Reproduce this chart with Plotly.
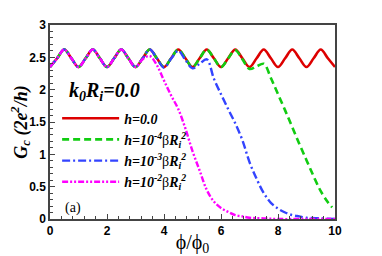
import plotly.graph_objects as go

# ---------------- data ----------------
x_red = [0, 0.25, 0.5, 0.75, 1, 1.25, 1.5, 1.75, 2, 2.25, 2.5, 2.75, 3, 3.25, 3.5, 3.75,
         4, 4.25, 4.5, 4.75, 5, 5.25, 5.5, 5.75, 6, 6.25, 6.5, 6.75, 7, 7.25, 7.5, 7.75,
         8, 8.25, 8.5, 8.75, 9, 9.25, 9.5, 9.75, 10]
y_red = [2.35, 2.485, 2.62, 2.485, 2.35, 2.485, 2.62, 2.485, 2.35, 2.485, 2.62, 2.485,
         2.35, 2.485, 2.62, 2.485, 2.35, 2.485, 2.62, 2.485, 2.35, 2.485, 2.62, 2.485,
         2.35, 2.485, 2.62, 2.485, 2.35, 2.485, 2.62, 2.485, 2.35, 2.485, 2.62, 2.485,
         2.35, 2.485, 2.62, 2.485, 2.35]

x_green = [0, 0.25, 0.5, 0.75, 1, 1.25, 1.5, 1.75, 2, 2.25, 2.5, 2.75, 3, 3.25, 3.5, 3.75,
           4, 4.25, 4.5, 4.75, 5, 5.25, 5.5, 5.75, 6, 6.25, 6.5, 6.75, 7, 7.25, 7.5, 7.75,
           8, 8.25, 8.5, 8.75, 9, 9.25, 9.5, 9.75, 9.9]
y_green = [2.35, 2.485, 2.62, 2.485, 2.35, 2.485, 2.62, 2.485, 2.35, 2.485, 2.62, 2.485,
           2.35, 2.485, 2.62, 2.485, 2.35, 2.485, 2.62, 2.485, 2.35, 2.485, 2.62, 2.485,
           2.35, 2.485, 2.61, 2.47, 2.32, 2.36, 2.40, 2.18, 1.93, 1.68, 1.42, 1.16,
           0.91, 0.66, 0.43, 0.26, 0.18]

x_blue = [0, 0.25, 0.5, 0.75, 1, 1.25, 1.5, 1.75, 2, 2.25, 2.5, 2.75, 3, 3.25, 3.5, 3.75,
          4, 4.25, 4.5, 4.75, 5, 5.25, 5.5, 5.75, 6, 6.25, 6.5, 6.75, 7, 7.25, 7.5, 7.75,
          8, 8.25, 8.5, 8.75, 9, 9.5, 10]
y_blue = [2.35, 2.485, 2.62, 2.485, 2.35, 2.485, 2.62, 2.485, 2.35, 2.485, 2.62, 2.485,
          2.35, 2.485, 2.62, 2.485, 2.34, 2.48, 2.60, 2.46, 2.33, 2.40, 2.47, 2.17,
          1.93, 1.70, 1.48, 1.22, 0.88, 0.62, 0.40, 0.25, 0.16, 0.10, 0.06, 0.04,
          0.02, 0.01, 0.0]

x_mag = [0, 0.25, 0.5, 0.75, 1, 1.25, 1.5, 1.75, 2, 2.25, 2.5, 2.75, 3, 3.25, 3.5, 3.75,
         4, 4.25, 4.5, 4.75, 5, 5.25, 5.5, 5.75, 6, 6.25, 6.5, 6.75, 7, 7.5, 8, 9, 10]
y_mag = [2.35, 2.485, 2.62, 2.485, 2.35, 2.485, 2.62, 2.485, 2.35, 2.485, 2.62, 2.485,
         2.35, 2.47, 2.52, 2.38, 2.14, 1.91, 1.70, 1.40, 1.05, 0.75, 0.45, 0.27,
         0.17, 0.11, 0.06, 0.04, 0.02, 0.01, 0.0, 0.0, 0.0]

names = ["<b><i>h=0.0</i></b>",
         "<b><i>h=10<sup>-4</sup></i></b>β<b><i>R<sub>i</sub><sup>2</sup></i></b>",
         "<b><i>h=10<sup>-3</sup></i></b>β<b><i>R<sub>i</sub><sup>2</sup></i></b>",
         "<b><i>h=10<sup>-2</sup></i></b>β<b><i>R<sub>i</sub><sup>2</sup></i></b>"]

x_ticks = [0, 2, 4, 6, 8, 10]
x_tick_text = ["0", "2", "4", "6", "8", "10"]
y_ticks = [0, 0.5, 1, 1.5, 2, 2.5, 3]
y_tick_text = ["0", "0.5", "1", "1.5", "2", "2.5", "3"]

# ---------------- figure ----------------
serif = "'Liberation Serif', 'Times New Roman', Times, serif"
sans = "'Liberation Sans', Arial, sans-serif"
fig = go.Figure()
fig.add_trace(go.Scatter(x=x_red, y=y_red, name=names[0], mode="lines",
                         line=dict(color="#dd0000", width=2.6, shape="spline", smoothing=1)))
fig.add_trace(go.Scatter(x=x_green, y=y_green, name=names[1], mode="lines",
                         line=dict(color="#11cc11", width=2.6, dash="7px,4px",
                                   shape="spline", smoothing=1)))
fig.add_trace(go.Scatter(x=x_blue, y=y_blue, name=names[2], mode="lines",
                         line=dict(color="#3344ff", width=2.4, dash="8px,3px,2px,3px",
                                   shape="spline", smoothing=1)))
fig.add_trace(go.Scatter(x=x_mag, y=y_mag, name=names[3], mode="lines",
                         line=dict(color="#ff00ff", width=2.4, dash="6px,2px,2px,2px,2px,2px",
                                   shape="spline", smoothing=1)))

axis_common = dict(showline=True, linecolor="#444444", linewidth=1.5, mirror=True,
                   ticks="inside", ticklen=5, tickcolor="#444444", showgrid=False,
                   zeroline=False, automargin=False,
                   tickfont=dict(family=sans, size=12, color="black", weight="bold"))

fig.update_xaxes(range=[0, 10], tickvals=x_ticks,
                 ticktext=["<b>" + t + "</b>" for t in x_tick_text],
                 minor=dict(dtick=0.4, ticklen=3, ticks="inside", tickcolor="#444444"),
                 title=dict(text="ϕ/ϕ<sub>0</sub>",
                            font=dict(family=serif, size=20, color="black"), standoff=4),
                 **axis_common)
fig.update_yaxes(range=[0, 3], tickvals=y_ticks,
                 ticktext=["<b>" + t + "</b>" for t in y_tick_text],
                 minor=dict(dtick=0.1, ticklen=3, ticks="inside", tickcolor="#444444"),
                 title=dict(text="<b><i>G<sub>c</sub> (2e<sup>2</sup>/h)</i></b>",
                            font=dict(family=serif, size=18, color="black"), standoff=3),
                 **axis_common)

fig.add_annotation(x=0.19, y=0.655, xref="paper", yref="paper", showarrow=False,
                   xanchor="center", yanchor="middle",
                   text="<b><i>k<sub>0</sub>R<sub>i</sub>=0.0</i></b>",
                   font=dict(family=serif, size=20, color="black"))
fig.add_annotation(x=0.08, y=0.057, xref="paper", yref="paper", showarrow=False,
                   xanchor="center", yanchor="middle",
                   text="(a)", font=dict(family=serif, size=14, color="black"))

fig.update_layout(
    width=374, height=248,
    margin=dict(l=42, r=47, t=17, b=37, autoexpand=False),
    paper_bgcolor="white", plot_bgcolor="white",
    showlegend=True,
    legend=dict(x=0.025, y=0.6, xanchor="left", yanchor="top",
                bgcolor="rgba(0,0,0,0)", itemwidth=57,
                font=dict(family=serif, size=14, color="black"),
                tracegroupgap=0),
)

fig.write_html("out.html")
